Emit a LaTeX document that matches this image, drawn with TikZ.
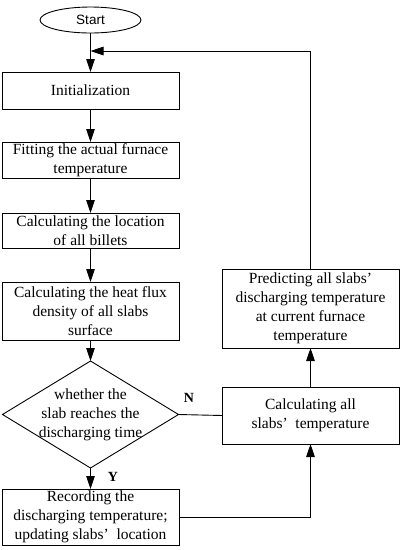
\documentclass[tikz,border=0pt]{standalone}
\usepackage{fontspec}
\setmainfont{Liberation Serif}
\newfontfamily\startfont{Liberation Sans}
\usetikzlibrary{shapes.geometric,arrows.meta}
\begin{document}
\begin{tikzpicture}[x=1pt,y=-1pt,
  every node/.style={inner sep=0pt, outer sep=0pt},
  box/.style={draw, line width=0.9pt, minimum width=177pt, align=center,
    font=\fontsize{15.5}{19}\selectfont},
  txt/.style={align=center, font=\fontsize{15.5}{19}\selectfont},
  conn/.style={line width=0.9pt},
  arr/.style={line width=0.9pt, -{Triangle[length=13pt,width=8.5pt]}},
  lab/.style={font=\fontsize{14}{16}\selectfont\bfseries}
]
\useasboundingbox (0,0) rectangle (400,550);
\node[ellipse, draw, line width=0.9pt, minimum width=101pt, minimum height=26pt,
  font=\startfont\fontsize{13.5}{16}\selectfont] (start) at (90.5,20) {Start};
\node[box, minimum height=37pt] (init) at (90.5,90.5) {Initialization};
\node[box, minimum height=36pt] (fit) at (90.5,160) {Fitting the actual furnace\\temperature};
\node[box, minimum height=35pt] (loc) at (90.5,230.5) {Calculating the location\\of all billets};
\node[box, minimum height=58pt] (flux) at (90.5,311) {Calculating the heat flux\\density of all slabs\\surface};
\node[diamond, draw, line width=0.9pt, minimum width=176pt, minimum height=107pt] (dec) at (90.5,414.5) {};
\node[txt] (dectext) at (dec.center) {whether the\\slab reaches the\\discharging time};
\node[box, minimum height=56pt] (rec) at (90.5,517) {Recording the\\discharging temperature;\\updating slabs’\enspace location};
\node[box, minimum height=79pt] (pred) at (310.5,308.5) {Predicting all slabs’\\discharging temperature\\at current furnace\\temperature};
\node[box, minimum height=57pt] (calc) at (310.5,415.5) {Calculating all\\slabs’\enspace temperature};
\node[lab] (nlab) at (189,398) {N};
\node[lab] (ylab) at (113,477) {Y};
\coordinate (ret) at (90.5,51);

\draw[arr] (start) -- (init);
\draw[arr] (init) -- (fit);
\draw[arr] (fit) -- (loc);
\draw[arr] (loc) -- (flux);
\draw[arr] (flux) -- (dec);
\draw[arr] (dec) -- (rec);
\draw[conn] (dec.east) -- (calc.west);
\draw[arr] (rec.east) -| (calc.south);
\draw[arr] (calc) -- (pred);
\draw[arr] (pred.north) |- (ret);
\end{tikzpicture}
\end{document}
